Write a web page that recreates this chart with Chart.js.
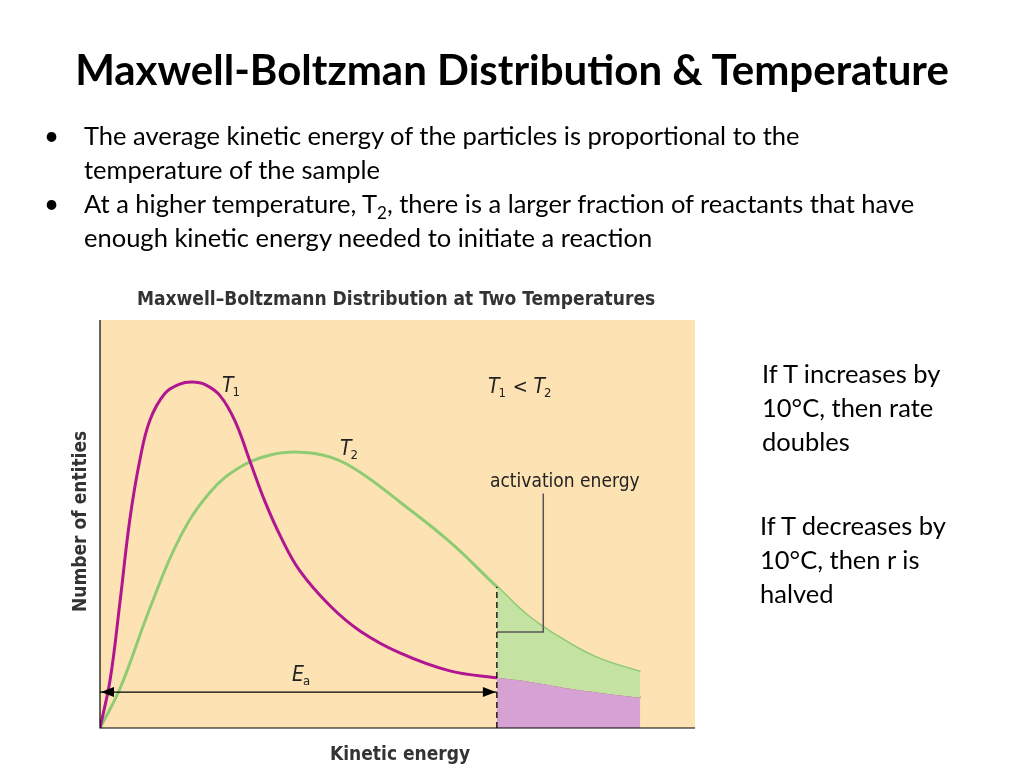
<!DOCTYPE html>
<html><head><meta charset="utf-8">
<script src="https://cdn.jsdelivr.net/npm/chart.js@4/dist/chart.umd.min.js"></script>
<style>
body{margin:0;width:1024px;height:768px;background:#fff;position:relative;overflow:hidden;font-family:Lato,"Open Sans",sans-serif;color:#000}
#c{position:absolute;left:0;top:0}
.t{position:absolute;white-space:nowrap}
sub{line-height:0}
</style></head><body>
<canvas id="c" width="1024" height="768"></canvas>
<div class="t" style="left:0;width:1024px;top:44px;text-align:center;font-size:42px;font-weight:bold">Maxwell-Boltzman Distribution &amp; Temperature</div>
<div class="t" style="left:44px;top:118px;font-size:26px;line-height:34px">•</div>
<div class="t" style="left:84px;top:118px;font-size:25.5px;line-height:34px">The average kinetic energy of the particles is proportional to the<br>temperature of the sample</div>
<div class="t" style="left:44px;top:186px;font-size:26px;line-height:34px">•</div>
<div class="t" style="left:84px;top:186px;font-size:25.5px;line-height:34px">At a higher temperature, T<sub style="font-size:17px">2</sub>, there is a larger fraction of reactants that have<br>enough kinetic energy needed to initiate a reaction</div>
<div class="t" style="left:762px;top:356px;font-size:25.5px;line-height:34px">If T increases by<br>10°C, then rate<br>doubles</div>
<div class="t" style="left:760px;top:508px;font-size:25.5px;line-height:34px">If T decreases by<br>10°C, then r is<br>halved</div>
<script>
const energyT1=[0,1.7,3.4,5.0,6.7,8.4,10.9,13.4,15.5,17.6,20.2,22.7,25.2,27.7,30.3,33.6,38.7,43.7,50.4,58.8,66.7,72.3,79.0,84.0,90.8];
const countT1=[0,11.8,31.4,51.0,65.7,75.5,82.0,84.3,84.8,84.2,81.4,75.2,65.4,55.6,47.1,38.5,29.9,23.8,18.4,14.0,12.3,11.3,9.6,8.6,7.4];
const energyT2=[0,3.4,8.4,13.4,18.5,23.5,28.6,33.6,38.7,43.7,50.4,58.8,66.7,72.3,79.0,84.0,90.8];
const countT2=[0,9.8,29.4,46.6,57.8,63.9,66.9,67.6,66.4,62.7,55.4,45.6,34.6,27.0,20.6,16.9,13.7];
const activationEnergy=66.7;
const seriesLabels=["T1","T2"];

const pts=(xs,ys,f)=>xs.map((x,i)=>({x,y:ys[i]})).filter(p=>!f||p.x>=activationEnergy);
const MAG="#b0168f",GRN="#8ecb73";
const cf="'Liberation Sans Narrow','DejaVu Sans Condensed',sans-serif";

function sub(ctx,x,y,main,s,size){
  ctx.font="italic "+size+"px "+cf;ctx.fillText(main,x,y);
  const w=ctx.measureText(main).width;
  ctx.font=Math.round(size*0.62)+"px "+cf;ctx.fillText(s,x+w-1,y+4);
  return w+ctx.measureText(s).width;
}
const deco={id:'deco',
 beforeDraw(ch){const {ctx,chartArea:a}=ch;ctx.save();ctx.fillStyle="#fde3b4";ctx.fillRect(a.left,a.top,a.right-a.left,a.bottom-a.top);ctx.restore();},
 afterDatasetsDraw(ch){
  const {ctx,chartArea:a,scales:{x,y}}=ch;ctx.save();
  const ex=x.getPixelForValue(activationEnergy);
  ctx.strokeStyle="#000";ctx.lineWidth=1.3;ctx.setLineDash([6,4]);
  ctx.beginPath();ctx.moveTo(ex,a.bottom);ctx.lineTo(ex,y.getPixelForValue(34.6));ctx.stroke();ctx.setLineDash([]);
  ctx.strokeStyle="#555";ctx.lineWidth=1.5;
  const bx=x.getPixelForValue(74.5),by=y.getPixelForValue(23.5);
  ctx.beginPath();ctx.moveTo(bx,y.getPixelForValue(57.5));ctx.lineTo(bx,by);ctx.lineTo(ex,by);ctx.stroke();
  ctx.strokeStyle="#000";ctx.lineWidth=1.2;
  ctx.beginPath();ctx.moveTo(a.left,a.top);ctx.lineTo(a.left,a.bottom);ctx.lineTo(a.right,a.bottom);ctx.stroke();
  const ay=y.getPixelForValue(8.8);
  ctx.beginPath();ctx.moveTo(a.left,ay);ctx.lineTo(ex,ay);ctx.stroke();
  ctx.fillStyle="#000";
  ctx.beginPath();ctx.moveTo(a.left+1,ay);ctx.lineTo(a.left+14,ay-5);ctx.lineTo(a.left+14,ay+5);ctx.fill();
  ctx.beginPath();ctx.moveTo(ex-1,ay);ctx.lineTo(ex-14,ay-5);ctx.lineTo(ex-14,ay+5);ctx.fill();
  ctx.fillStyle="#222";ctx.textBaseline="alphabetic";
  sub(ctx,222,392,"T","1",21);
  sub(ctx,340,455,"T","2",21);
  let w=sub(ctx,488,393,"T","1",21);
  ctx.font="20px "+cf;ctx.fillText(" < ",488+w,393);
  const w2=ctx.measureText(" < ").width;
  sub(ctx,488+w+w2,393,"T","2",21);
  sub(ctx,292,681,"E","a",21);
  ctx.font="19px "+cf;ctx.fillText("activation energy",490,487);
  ctx.font="bold 19px "+cf;ctx.fillStyle="#333";
  ctx.fillText("Maxwell–Boltzmann Distribution at Two Temperatures",137,305);
  ctx.fillText("Kinetic energy",330,760);
  ctx.translate(86,612);ctx.rotate(-Math.PI/2);ctx.fillText("Number of entities",0,0);
  ctx.restore();
 }};
new Chart(document.getElementById('c'),{type:'line',
 data:{datasets:[
  {data:pts(energyT2,countT2,true),borderWidth:0,pointRadius:0,fill:1,backgroundColor:"#c4e3a2",tension:0.4},
  {data:pts(energyT1,countT1,true),borderWidth:0,pointRadius:0,fill:'origin',backgroundColor:"#d6a2d3",tension:0.4},
  {label:seriesLabels[0],data:pts(energyT1,countT1),borderColor:MAG,borderWidth:3,pointRadius:0,fill:false,tension:0.4},
  {label:seriesLabels[1],data:pts(energyT2,countT2),borderColor:GRN,borderWidth:3,pointRadius:0,fill:false,tension:0.4}
 ]},
 options:{responsive:false,animation:false,devicePixelRatio:1,
  layout:{padding:{left:100,top:320,right:329,bottom:40}},
  plugins:{legend:{display:false},tooltip:{enabled:false}},
  scales:{x:{type:'linear',min:0,max:100,display:false},y:{min:0,max:100,display:false}}},
 plugins:[deco]});
</script>
</body></html>
